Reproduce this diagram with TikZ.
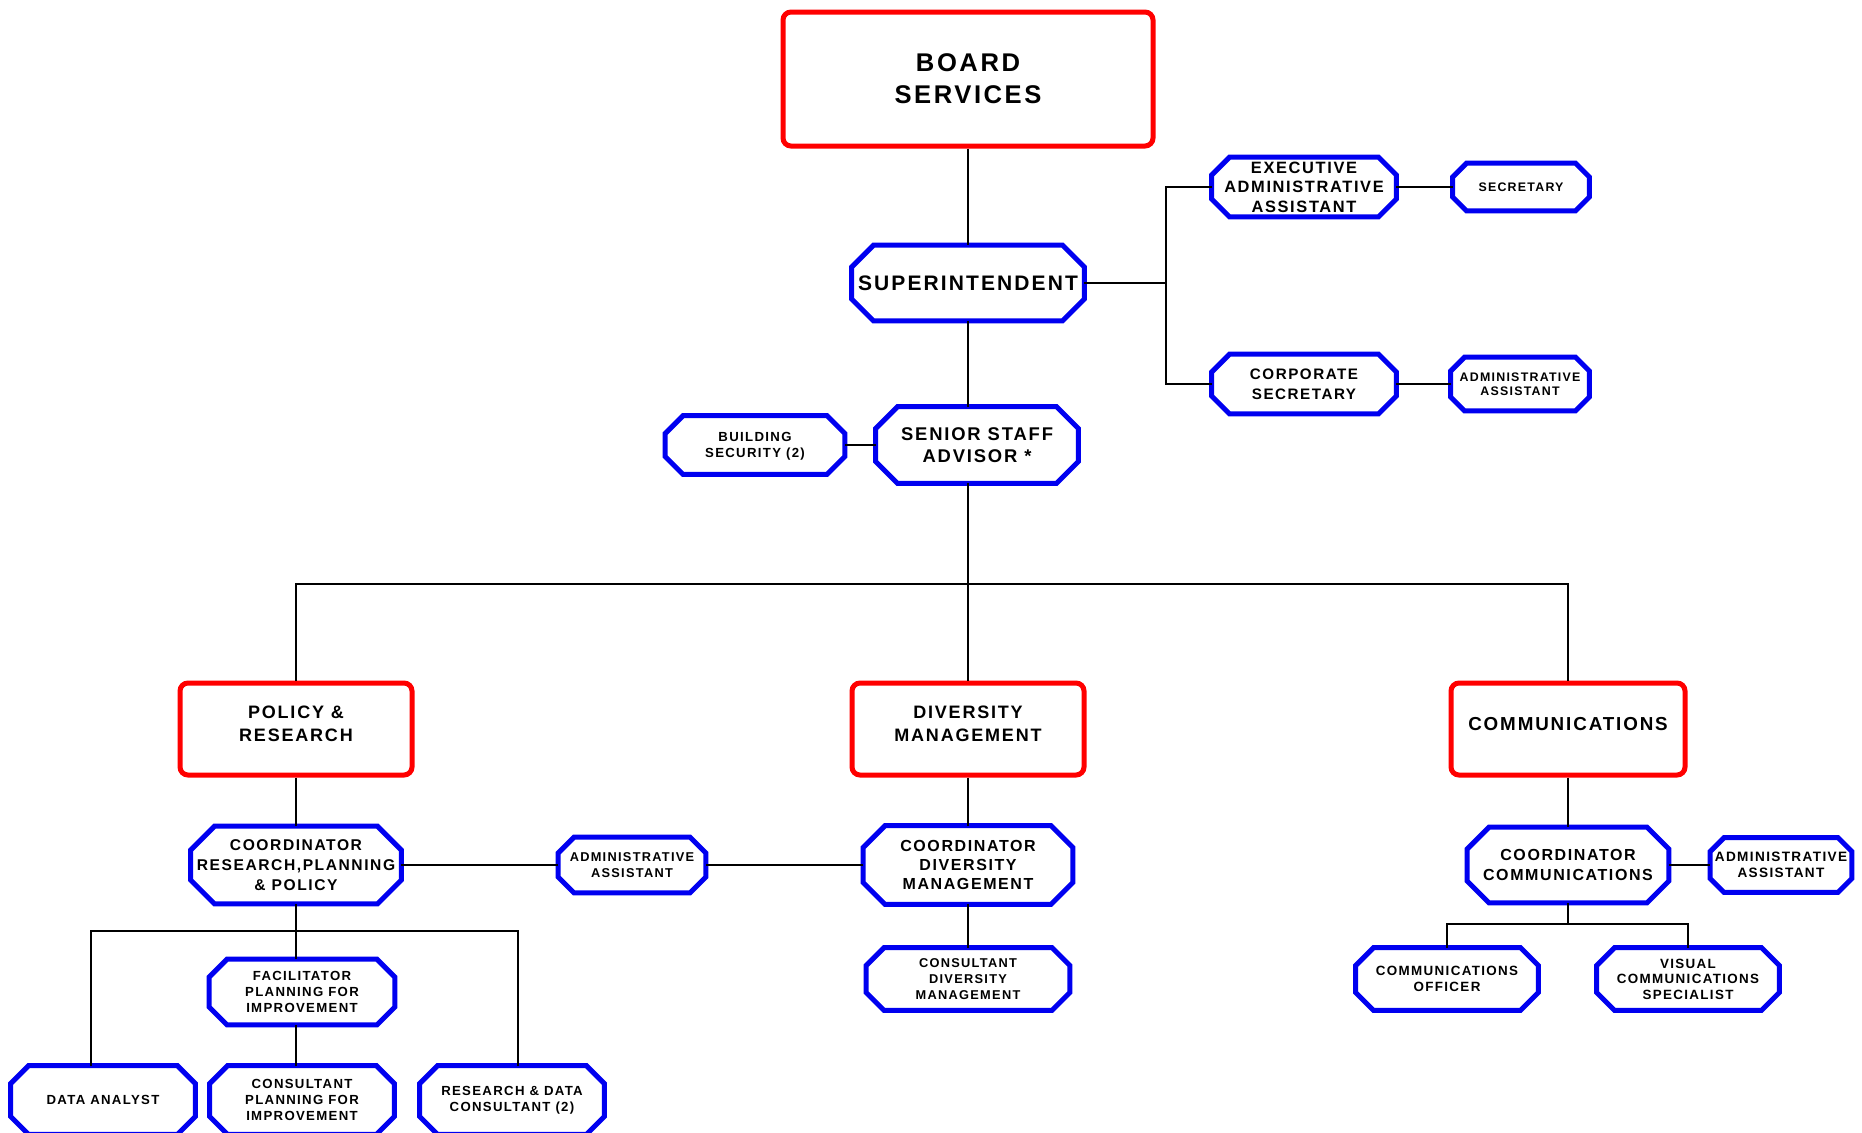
\documentclass[tikz,border=0pt]{standalone}
\usepackage{fontspec}
\setmainfont{Liberation Sans}[LetterSpace=10]

\definecolor{boxred}{RGB}{255,0,0}
\definecolor{boxblue}{RGB}{0,0,240}

\begin{document}
\begin{tikzpicture}[
  x=0.5pt, y=-0.5pt,
  fs/.style 2 args={font=\fontsize{#1}{#2}\selectfont\bfseries},
  dept/.style={draw=boxred, line width=2.5pt, rounded corners=4pt, align=center,
               inner sep=0pt, minimum width=116pt, minimum height=46pt},
  octo/.style={draw=boxblue, line width=2.5pt},
  post/.style={align=center, inner sep=0pt,
    append after command={\pgfextra{\draw[octo]
      ([xshift=#1]\tikzlastnode.north west) -- ([xshift=-#1]\tikzlastnode.north east)
      -- ([yshift=-#1]\tikzlastnode.north east) -- ([yshift=#1]\tikzlastnode.south east)
      -- ([xshift=-#1]\tikzlastnode.south east) -- ([xshift=#1]\tikzlastnode.south west)
      -- ([yshift=#1]\tikzlastnode.south west) -- ([yshift=-#1]\tikzlastnode.north west)
      -- cycle;}}},
  post/.default=9pt,
  link/.style={line width=1.2pt}
]
\useasboundingbox (0,0) rectangle (1862,1132);

% top of the chart
\node[dept, fs={12.8}{16}, text depth=-2.4pt, minimum width=185pt, minimum height=67pt] (board) at (968,79) {BOARD\\SERVICES};
\node[post=11pt, fs={10.5}{12.5}, minimum width=116pt, minimum height=37.5pt] (supt) at (968,283) {SUPERINTENDENT};
\node[post, fs={8.2}{9.7}, minimum width=92pt, minimum height=29.5pt] (exec) at (1304,187) {EXECUTIVE\\ADMINISTRATIVE\\ASSISTANT};
\node[post=7pt, fs={6.2}{7}, minimum width=68pt, minimum height=23.5pt] (secr) at (1521,187) {SECRETARY};
\node[post, fs={7.6}{10}, minimum width=92pt, minimum height=29.5pt] (corp) at (1304,384) {CORPORATE\\SECRETARY};
\node[post=7pt, fs={6.2}{6.9}, minimum width=69pt, minimum height=26.5pt] (adm1) at (1520,384) {ADMINISTRATIVE\\ASSISTANT};
\node[post=11pt, fs={9.2}{11.2}, minimum width=101pt, minimum height=38pt] (senior) at (977,445) {SENIOR STAFF\\ADVISOR *};
\node[post, fs={6.6}{8}, text depth=-3pt, minimum width=89.5pt, minimum height=29pt] (bsec) at (755,445) {BUILDING\\SECURITY (2)};

% departments
\node[dept, fs={9}{11.5}, text depth=5.4pt] (policy) at (296,729) {POLICY \&\\RESEARCH};
\node[dept, fs={9}{11.5}, text depth=5.4pt] (divm) at (968,729) {DIVERSITY\\MANAGEMENT};
\node[dept, fs={9.4}{11.5}, text depth=5.4pt, minimum width=117pt] (comms) at (1568,729) {COMMUNICATIONS};

% coordinators
\node[post=12pt, fs={7.8}{10.1}, minimum width=105pt, minimum height=38.5pt] (crpp) at (296,865) {COORDINATOR\\RESEARCH,PLANNING\\\& POLICY};
\node[post=8pt, fs={6.4}{8}, minimum width=73.5pt, minimum height=27.5pt] (adm2) at (632,865) {ADMINISTRATIVE\\ASSISTANT};
\node[post=11pt, fs={8}{9.7}, minimum width=104.5pt, minimum height=39pt] (cdiv) at (968,865) {COORDINATOR\\DIVERSITY\\MANAGEMENT};
\node[post=11pt, fs={8}{9.7}, minimum width=100.5pt, minimum height=37.5pt] (ccom) at (1568,865) {COORDINATOR\\COMMUNICATIONS};
\node[post=7pt, fs={6.8}{8.2}, minimum width=70.5pt, minimum height=27pt] (adm3) at (1781,865) {ADMINISTRATIVE\\ASSISTANT};

% staff
\node[post, fs={6.4}{7.8}, minimum width=101.5pt, minimum height=31pt] (consdiv) at (968,979) {CONSULTANT\\DIVERSITY\\MANAGEMENT};
\node[post, fs={6.7}{7.7}, minimum width=91pt, minimum height=31pt] (coff) at (1447,979) {COMMUNICATIONS\\OFFICER};
\node[post, fs={6.7}{7.8}, minimum width=91pt, minimum height=31pt] (vcs) at (1688,979) {VISUAL\\COMMUNICATIONS\\SPECIALIST};
\node[post, fs={6.6}{8}, minimum width=92.5pt, minimum height=32.5pt] (facil) at (302,992) {FACILITATOR\\PLANNING FOR\\IMPROVEMENT};
\node[post, fs={6.6}{8}, minimum width=92pt, minimum height=34pt] (dana) at (103,1100) {DATA ANALYST};
\node[post, fs={6.6}{8}, minimum width=92pt, minimum height=34pt] (cpfi) at (302,1100) {CONSULTANT\\PLANNING FOR\\IMPROVEMENT};
\node[post, fs={6.6}{8}, minimum width=92pt, minimum height=34pt] (rdc) at (512,1100) {RESEARCH \& DATA\\CONSULTANT (2)};

% bus points
\coordinate (rbus) at (1166,283);
\coordinate (mbus) at (968,584);
\coordinate (cbus) at (1568,924);
\coordinate (pl) at (91,931);
\coordinate (pr) at (518,931);

\begin{scope}[link]
  \draw (board) -- (supt);
  \draw (supt.east) -- (rbus);
  \draw (exec.west) -| (rbus) |- (corp.west);
  \draw (exec) -- (secr);
  \draw (corp) -- (adm1);
  \draw (supt.south) -- (supt.south |- senior.north);
  \draw (bsec.east) -- (senior.west);
  \draw (supt.south |- senior.south) -- (mbus);
  \draw (policy.north) |- (mbus) -| (comms.north);
  \draw (mbus) -- (divm.north);
  \draw (policy) -- (crpp);
  \draw (divm) -- (cdiv);
  \draw (comms) -- (ccom);
  \draw (crpp.east) -- (adm2.west);
  \draw (adm2.east) -- (cdiv.west);
  \draw (cdiv) -- (consdiv);
  \draw (ccom.east) -- (adm3.west);
  \draw (ccom.south) -- (cbus);
  \draw (coff.north) |- (cbus) -| (vcs.north);
  \draw (crpp.south) -- (crpp.south |- facil.north);
  \draw (pl |- dana.north) -- (pl) -- (pr) -- (pr |- rdc.north);
  \draw (crpp.south |- facil.south) -- (crpp.south |- cpfi.north);
\end{scope}
\end{tikzpicture}
\end{document}
